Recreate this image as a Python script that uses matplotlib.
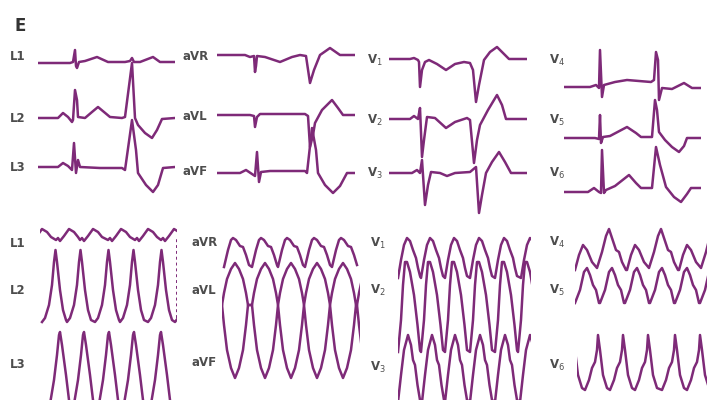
import numpy as np
import matplotlib.pyplot as plt

W, H = 708, 400
PX_PER_MS = 0.1   # horizontal pixels per millisecond
PX_PER_MV = 10    # vertical pixels per millivolt
TRACE = '#7e2a78'
LABEL = '#4d4d4d'

# ---- top: sinus rhythm, two beats per lead (time ms, amplitude mV) ----
l1_t = [0, 320, 350, 370, 380, 390, 410, 470, 590, 700, 870, 920, 940, 960, 1020, 1150, 1220, 1370]
l1_v = [-0.1, -0.1, 0, 1.2, -0.4, -0.6, 0, 0.1, 0.5, 0, 0, 0.1, 0.4, 0, 0, 0.5, 0, 0]

l2_t = [0, 200, 250, 300, 340, 350, 370, 390, 400, 470, 540, 600, 660, 720, 840, 870, 940, 970,
        1000, 1070, 1140, 1190, 1240, 1370]
l2_v = [0, 0, 0.5, 0.1, -0.4, -0.2, 2.8, 1.8, 0.1, 0, 0.6, 1.1, 0.6, 0.1, 0, 0.1, 5.5, 0,
        -0.7, -1.5, -2.0, -1.2, -0.1, 0]

l3_t = [0, 200, 250, 300, 340, 360, 380, 400, 420, 620, 840, 870, 940, 980, 1000, 1080, 1150,
        1200, 1250, 1370]
l3_v = [0, 0, 0.4, 0.1, -0.3, 2.4, -0.6, 0.7, 0, -0.1, -0.1, -0.3, 4.7, 1.7, -0.6, -1.8, -2.5,
        -1.8, -0.1, 0]

avr_t = [0, 280, 330, 370, 380, 390, 400, 480, 630, 750, 830, 890, 930, 970, 1030, 1130, 1230, 1380]
avr_v = [0, 0, -0.2, -0.1, -1.7, -1.1, -0.1, -0.2, -0.7, -0.2, 0, -0.1, -2.8, -1.5, 0, 0.7, 0, 0]

avl_t = [0, 330, 370, 380, 400, 430, 880, 910, 930, 960, 980, 1050, 1150, 1210, 1260, 1380]
avl_v = [0, 0, -0.1, -1.2, -0.2, 0.1, 0.1, -0.1, -3.2, -2.0, -0.8, 0.5, 1.5, 0.7, 0, 0]

avf_t = [0, 230, 290, 350, 380, 400, 420, 440, 530, 880, 900, 950, 990, 1010, 1080, 1160, 1230,
         1300, 1380]
avf_v = [0, 0, 0.3, -0.1, -0.3, 2.1, -0.9, 0.1, 0.2, 0.2, 0, 4.5, 2.3, 0, -1.2, -2.0, -1.3, 0, 0]

v1_t = [0, 210, 250, 290, 300, 310, 330, 360, 400, 480, 570, 660, 750, 810, 840, 870, 900, 950,
        1010, 1080, 1140, 1200, 1380]
v1_v = [0, 0, 0.1, -0.1, -0.3, -2.8, -1.1, -0.3, -0.1, -0.5, -1.1, -0.5, -0.3, -0.4, -1.1, -4.3,
        -2.6, -0.1, 0.7, 1.2, 0.6, 0, 0]

v2_t = [0, 210, 250, 290, 310, 330, 350, 380, 460, 570, 660, 780, 810, 850, 880, 910, 990, 1080,
        1130, 1170, 1380]
v2_v = [0, 0, 0.3, 0, 1.1, -3.8, -2.1, 0.2, 0.1, -0.9, -0.3, 0.1, -0.1, -4.4, -2.1, -0.6, 0.9,
        2.4, 1.4, 0, 0]

v3_t = [0, 230, 280, 310, 330, 360, 390, 420, 510, 580, 660, 810, 870, 900, 930, 970, 1030, 1100,
        1160, 1220, 1380]
v3_v = [0, 0, 0.3, 0, 1.3, -3.2, -1.2, 0.1, 0, -0.3, 0, 0.1, 0.6, -4.0, -2.2, 0, 1.1, 2.1, 1.1,
        0, 0]

v4_t = [0, 260, 320, 350, 360, 380, 400, 510, 630, 870, 900, 920, 940, 950, 980, 1080, 1200, 1280,
        1370]
v4_v = [0, 0, 0.2, -0.1, 3.7, -1.0, 0.2, 0.5, 0.7, 0.5, 0.7, 3.5, 2.7, -1.3, -0.1, -0.2, 0.4,
        -0.1, -0.1]

v5_t = [0, 310, 350, 360, 370, 390, 460, 630, 720, 770, 880, 910, 930, 950, 1010, 1080, 1150,
        1200, 1230, 1370]
v5_v = [0, 0, -0.1, 2.3, -0.5, 0.1, 0.2, 1.1, 0.5, 0.1, 0.1, 3.8, 2.8, 0.6, -0.2, -0.9, -1.4,
        -0.8, 0, 0]

v6_t = [0, 240, 300, 350, 370, 380, 400, 420, 510, 650, 720, 770, 880, 920, 960, 1020, 1100, 1170,
        1230, 1270, 1370]
v6_v = [0, 0, 0.4, 0, -0.1, 4.2, -0.1, 0.2, 0.6, 1.7, 0.9, 0.4, 0.4, 4.5, 2.7, 0.5, -0.5, -1.0,
        -0.2, 0.4, 0.4]

# ---- bottom: tachycardia, one complex shape per lead plus its onset times ----
l1b_shape_t = [0, 20, 40, 80, 130, 180, 220]
l1b_shape_v = [-0.3, -0.1, -0.4, 0.1, 0.8, 0.5, 0.0]
l1b_onsets = [-110, 160, 400, 680, 950, 1210]

l2b_shape_t = [0, 30, 70, 100, 120, 135, 150, 180, 210, 240]
l2b_shape_v = [-3.7, -3.3, -2.0, 0, 2.3, 3.5, 2.3, -0.5, -2.5, -3.5]
l2b_onsets = [20, 270, 550, 800, 1080, 1350]
# pen jump at the end of the L2 strip
l2b_tail_t = [1365, 1365]
l2b_tail_v = [-3.3, 4.6]

l3b_shape_t = [0, 50, 80, 100, 110, 130, 170, 200, 230]
l3b_shape_v = [-4.5, -1.5, 1.0, 3.0, 3.3, 2.0, -1.0, -3.5, -4.5]
l3b_onsets = [90, 330, 580, 830, 1100, 1370]

avrb_shape_t = [0, 40, 70, 90, 120, 160, 190, 220, 250]
avrb_shape_v = [-1.5, 0.2, 1.2, 1.4, 1.2, 0.6, 0.5, -0.3, -1.3]
avrb_onsets = [20, 300, 560, 830, 1100]

avlb_shape_t = [0, 20, 50, 90, 130, 170, 210, 240, 260]
avlb_shape_v = [0, 1.2, 2.6, 3.6, 4.2, 3.6, 2.6, 1.2, 0]
avfb_shape_v = [0, -2.0, -4.5, -6.3, -7.3, -6.3, -4.5, -2.0, 0]
avlb_onsets = [0, 300, 560, 820, 1080, 1350]

v1b_shape_t = [0, 30, 60, 90, 120, 150, 180, 200, 220]
v1b_shape_v = [-2.0, -0.2, 1.3, 2.0, 1.7, 0.8, 0, -1.0, -1.8]
v1b_onsets = [0, 230, 470, 720, 970, 1230]

v2b_shape_t = [0, 30, 50, 70, 90, 120, 160, 195, 220]
v2b_shape_v = [-4.7, -1.5, 2.0, 4.3, 4.3, 3.3, 1.0, -2.0, -4.5]
v2b_onsets = [0, 230, 470, 720, 970, 1200]

v3b_shape_t = [0, 30, 60, 100, 130, 150, 170, 195, 220]
v3b_shape_v = [-3.7, -1.0, 1.5, 3.0, 2.0, 0.5, 0, -2.0, -3.5]
v3b_onsets = [0, 240, 470, 720, 970, 1220]

v4b_shape_t = [0, 40, 80, 120, 170, 220, 270, 310, 340, 370, 410, 440, 470, 510]
v4b_shape_v = [-0.8, 0.7, 1.7, 1.2, 0, -0.6, 1.0, 2.6, 3.3, 2.4, 1.2, 1.0, 0, -0.8]
v4b_onsets = [0, 520, 1040]

v5b_shape_t = [0, 50, 90, 120, 150, 180, 210, 240]
v5b_shape_v = [-0.8, 0.5, 2.3, 2.7, 2.0, 1.0, 0.5, -0.8]
v5b_onsets = [0, 250, 500, 750, 1000, 1250]

v6b_shape_t = [0, 40, 70, 100, 120, 130, 150, 180, 220]
v6b_shape_v = [-2.5, -1.5, -0.3, 0.3, 1.5, 3.0, 1.5, -1.0, -2.3]
v6b_onsets = [-170, 80, 330, 580, 850, 1100]


def repeat(shape_t, shape_v, onsets):
    t = np.concatenate([np.asarray(shape_t) + o for o in onsets])
    v = np.tile(shape_v, len(onsets))
    return t, v


fig = plt.figure(figsize=(W / 100, H / 100), dpi=100)


def strip(x0, base, width_ms, t, v, **kw):
    # one axes per lead: x spans the strip, y covers the whole figure height
    ax = fig.add_axes([x0 / W, 0, width_ms * PX_PER_MS / W, 1])
    ax.set_xlim(0, width_ms)
    ax.set_ylim(-(H - base) / PX_PER_MV, base / PX_PER_MV)
    ax.axis('off')
    style = dict(color=TRACE, lw=1.8, solid_joinstyle='round')
    style.update(kw)
    ax.plot(t, v, **style)
    return ax


# top strips
strip(38, 62, 1370, l1_t, l1_v)
strip(38, 118, 1370, l2_t, l2_v)
strip(38, 167, 1370, l3_t, l3_v)
strip(217, 55, 1380, avr_t, avr_v)
strip(217, 115, 1380, avl_t, avl_v)
strip(217, 173, 1380, avf_t, avf_v)
strip(389, 59, 1380, v1_t, v1_v)
strip(389, 119, 1380, v2_t, v2_v)
strip(389, 173, 1380, v3_t, v3_v)
strip(564, 87, 1370, v4_t, v4_v)
strip(564, 138, 1370, v5_t, v5_v)
strip(564, 192, 1370, v6_t, v6_v)

# bottom strips
strip(40, 237, 1370, *repeat(l1b_shape_t, l1b_shape_v, l1b_onsets))
ax_l2b = strip(40, 285, 1370, *repeat(l2b_shape_t, l2b_shape_v, l2b_onsets))
ax_l2b.plot(l2b_tail_t, l2b_tail_v, color=TRACE, lw=1.4, ls=(0, (1.5, 1.5)))
strip(40, 365, 1370, *repeat(l3b_shape_t, l3b_shape_v, l3b_onsets))
strip(222, 252, 1380, *repeat(avrb_shape_t, avrb_shape_v, avrb_onsets))
strip(222, 305, 1380, *repeat(avlb_shape_t, avlb_shape_v, avlb_onsets))
strip(222, 305, 1380, *repeat(avlb_shape_t, avfb_shape_v, avlb_onsets))
strip(398, 258, 1330, *repeat(v1b_shape_t, v1b_shape_v, v1b_onsets))
strip(398, 305, 1330, *repeat(v2b_shape_t, v2b_shape_v, v2b_onsets))
strip(398, 365, 1330, *repeat(v3b_shape_t, v3b_shape_v, v3b_onsets))
strip(575, 262, 1320, *repeat(v4b_shape_t, v4b_shape_v, v4b_onsets))
strip(575, 295, 1320, *repeat(v5b_shape_t, v5b_shape_v, v5b_onsets))
strip(577, 365, 1300, *repeat(v6b_shape_t, v6b_shape_v, v6b_onsets))

# lead labels
top_labels = [('L1', 10, 57), ('L2', 10, 118), ('L3', 10, 168),
              ('aVR', 183, 57), ('aVL', 183, 117), ('aVF', 183, 172),
              ('V$_1$', 367, 60), ('V$_2$', 367, 120), ('V$_3$', 367, 173),
              ('V$_4$', 549, 60), ('V$_5$', 549, 120), ('V$_6$', 549, 173)]
bottom_labels = [('L1', 10, 243), ('L2', 10, 290), ('L3', 10, 365),
                 ('aVR', 192, 242), ('aVL', 192, 290), ('aVF', 192, 363),
                 ('V$_1$', 370, 243), ('V$_2$', 370, 290), ('V$_3$', 370, 367),
                 ('V$_4$', 549, 242), ('V$_5$', 549, 290), ('V$_6$', 549, 365)]
for name, x, y in top_labels + bottom_labels:
    fig.text(x / W, 1 - y / H, name, fontsize=8.5, fontweight='bold', color=LABEL,
             ha='left', va='center')

fig.text(14 / W, 1 - 26 / H, 'E', fontsize=12, fontweight='bold', color='#333333',
         ha='left', va='center')

fig.savefig('out.png', dpi=100, facecolor='white')
